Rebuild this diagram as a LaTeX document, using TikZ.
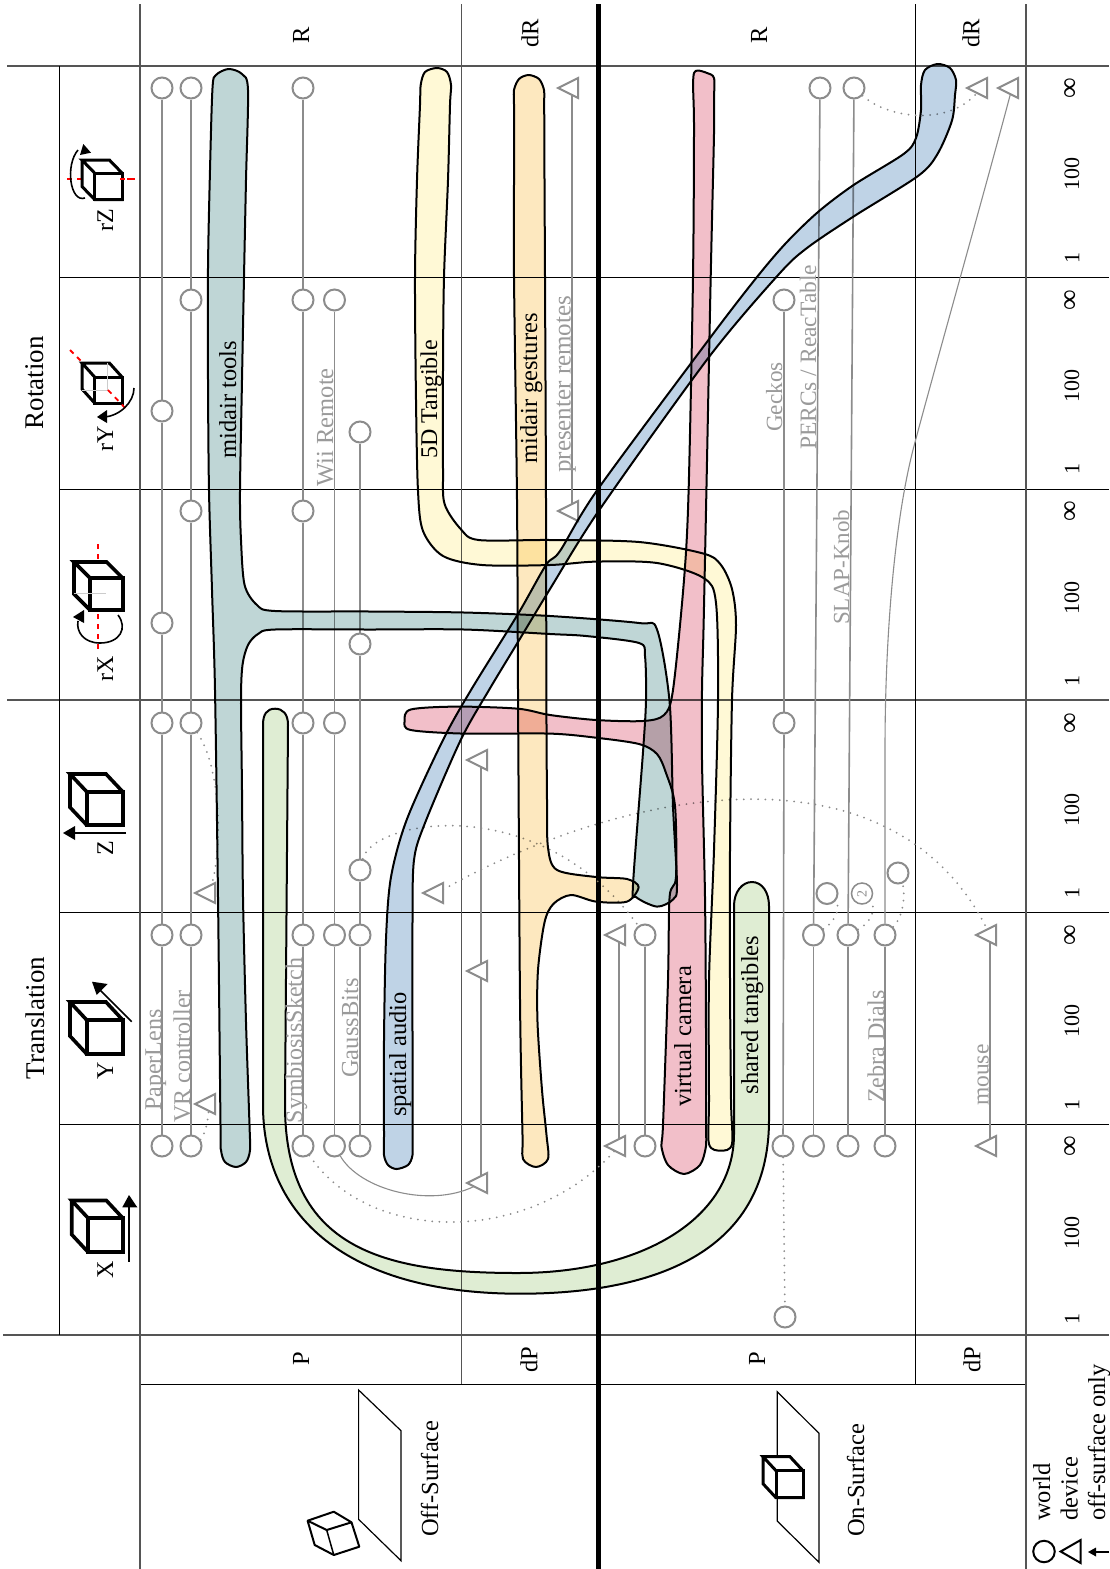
\documentclass[tikz,border=0pt]{standalone}
\usepackage{fontspec}
\setmainfont{Liberation Serif}
\usetikzlibrary{shapes.geometric}
\definecolor{devgray}{HTML}{8C8C8C}
\definecolor{txtgray}{HTML}{9A9A9A}
\definecolor{gridgray}{HTML}{555555}
\definecolor{cteal}{HTML}{BFD6D6}
\definecolor{cyel}{HTML}{FFF9D6}
\definecolor{corg}{HTML}{FDE8BF}
\definecolor{cblue}{HTML}{BFD3E6}
\definecolor{cpink}{HTML}{F2BFC9}
\definecolor{cgrn}{HTML}{DFEDD3}
\tikzset{
  wc/.style={circle,draw=devgray,line width=2pt,minimum size=21pt,inner sep=0pt},
  dt/.style={isosceles triangle,isosceles triangle stretches,shape border rotate=180,draw=devgray,line width=2pt,minimum height=20pt,minimum width=20pt,inner sep=0pt,outer sep=0pt},
  wire/.style={draw=devgray,line width=1.6pt},
  thinwire/.style={draw=devgray,line width=1.1pt},
  dots/.style={draw=devgray,line width=2pt,line cap=round,dash pattern=on 0pt off 7.2pt},
  gridd/.style={draw=gridgray,line width=1.1pt},
  gridk/.style={draw=black,line width=1pt},
  blob/.style={draw=black,line width=2pt,line join=round},
  glabel/.style={rotate=90,anchor=base west,inner sep=0pt,text=txtgray,font=\fontsize{24.5}{24.5}\selectfont},
  klabel/.style={rotate=90,anchor=base west,inner sep=0pt,text=black,font=\fontsize{24.5}{24.5}\selectfont},
  hlabel/.style={rotate=90,anchor=center,inner sep=0pt,text=black,font=\fontsize{24.5}{24.5}\selectfont},
  tick/.style={rotate=90,anchor=center,inner sep=0pt,text=black,font=\fontsize{22}{22}\selectfont},
  cubeline/.style={draw=black,line width=3pt,line join=miter,fill=white},
  reddash/.style={draw=red,line width=1.8pt,dash pattern=on 5pt off 5pt},
  arr/.style={draw=black,line width=1.6pt},
  head/.style={fill=black,draw=none},
  faint/.style={draw=black!20,line width=.6pt},
}
\newcommand{\mycube}[6]{%
  \draw[cubeline] (#1,#2) -- ({#1+#5},{#2+#6}) -- ({#3+#5},{#2+#6}) -- (#3,#2) -- (#3,#4) -- (#1,#4) -- ({#1+#5},{#4+#6}) -- ({#1+#5},{#2+#6});
  \draw[cubeline] (#1,#2) rectangle (#3,#4);
}
\begin{document}
\begin{tikzpicture}[x=1pt,y=-1pt]
\useasboundingbox (0,0) rectangle (1109,1569);
\fill[white] (0,0) rectangle (1109,1569);
% grid
\draw[gridd] (7,66) -- (1109,66);
\draw[gridd] (7,700) -- (1109,700);
\draw[gridd] (3,1335) -- (1109,1335);
\foreach \yy in {277,489,912,1124}{\draw[gridk] (59,\yy) -- (1109,\yy);}
\draw[gridk] (59,66) -- (59,1335);
\draw[gridk] (140,1384) -- (1025,1384);
\draw[gridd] (140,4) -- (140,1569);
\draw[gridd] (461.5,4) -- (461.5,1384);
\draw[gridk] (915.5,4) -- (915.5,1384);
\draw[gridd] (1026,4) -- (1026,1569);
\draw[draw=black,line width=4.5pt] (598.5,4) -- (598.5,1569);
% off-surface columns
\node[wc] (a1) at (162,88) {}; \node[wc] (a2) at (162,411) {}; \node[wc] (a3) at (162,623) {}; \node[wc] (a4) at (162,723) {}; \node[wc] (a5) at (162,935) {}; \node[wc] (a6) at (162,1146) {};
\draw[wire] (a1)--(a2); \draw[wire] (a2)--(a3); \draw[wire] (a3)--(a4); \draw[wire] (a4)--(a5); \draw[wire] (a5)--(a6);
\node[wc] (b1) at (191,88) {}; \node[wc] (b2) at (191,300) {}; \node[wc] (b3) at (191,511) {}; \node[wc] (b4) at (191,723) {}; \node[wc] (b5) at (191,935) {}; \node[wc] (b6) at (191,1146) {};
\draw[wire] (b1)--(b2); \draw[wire] (b2)--(b3); \draw[wire] (b3)--(b4); \draw[wire] (b4)--(b5); \draw[wire] (b5)--(b6);
\node[wc] (c1) at (303,88) {}; \node[wc] (c2) at (303,300) {}; \node[wc] (c3) at (303,511) {}; \node[wc] (c4) at (303,723) {}; \node[wc] (c5) at (303,935) {}; \node[wc] (c6) at (303,1146) {};
\draw[wire] (c1)--(c2); \draw[wire] (c2)--(c3); \draw[wire] (c3)--(c4); \draw[wire] (c4)--(c5); \draw[wire] (c5)--(c6);
\node[wc] (d1) at (334.5,300) {}; \node[wc] (d2) at (334.5,723) {}; \node[wc] (d3) at (334.5,935) {}; \node[wc] (d4) at (334.5,1146) {};
\draw[wire] (d1)--(d2); \draw[wire] (d2)--(d3); \draw[wire] (d3)--(d4);
\node[wc] (e1) at (360,432) {}; \node[wc] (e2) at (360,644) {}; \node[wc] (e3) at (360,870) {}; \node[wc] (e4) at (360,935) {}; \node[wc] (e5) at (360,1146) {};
\draw[wire] (e1)--(e2); \draw[wire] (e2)--(e3); \draw[wire] (e3)--(e4); \draw[wire] (e4)--(e5);
\node[dt] (f1) at (481,760) {}; \node[dt] (f2) at (481,971) {}; \node[dt] (f3) at (481,1183) {};
\draw[wire] (f1)--(f2); \draw[wire] (f2)--(f3);
\node[dt] (g1) at (572,88) {}; \node[dt] (g2) at (572,511) {};
\draw[wire] (g1)--(g2);
\node[dt] (h1) at (209,893) {}; \node[dt] (h2) at (209,1104) {};
\node[dt] (i1) at (437,893) {};
% on-surface columns
\node[dt] (j1) at (619,935) {}; \node[dt] (j2) at (619,1146) {};
\draw[wire] (j1)--(j2);
\node[wc] (k1) at (645,935) {}; \node[wc] (k2) at (645,1146) {};
\draw[wire] (k1)--(k2);
\node[wc] (l1) at (784,300) {}; \node[wc] (l2) at (784,723) {}; \node[wc] (l3) at (783,1146) {}; \node[wc] (l4) at (785,1317) {};
\draw[wire] (l1)--(l2); \draw[wire] (l2)--(l3);
\node[wc] (m1) at (820,88) {}; \node[wc] (m2) at (813.5,935) {}; \node[wc] (m3) at (813.5,1146) {};
\draw[wire] (m1)--(m2); \draw[wire] (m2)--(m3);
\node[wc] (n1) at (854,88) {}; \node[wc] (n2) at (848,935) {}; \node[wc] (n3) at (848,1146) {};
\draw[wire] (n1)--(n2); \draw[wire] (n2)--(n3);
\node[wc] (o2) at (885,935) {}; \node[wc] (o3) at (885,1146) {};
\draw[wire] (o2)--(o3);
\node[wc] (q1) at (827,893.5) {};
\node[wc,line width=1.5pt,font=\fontsize{14}{14}\selectfont,text=devgray,rotate=90] (q2) at (862,893.5) {2};
\node[wc] (q3) at (898,873) {};
\node[dt] (r1) at (981,88) {}; \node[dt] (r2) at (1012,88) {};
\node[dt] (s1) at (990,935) {}; \node[dt] (s2) at (990,1146) {};
\draw[wire] (s1)--(s2);
% curved connectors
\coordinate (v1) at (914,446); \coordinate (v2) at (885,750);
\draw[thinwire] (r2) .. controls (985,190) and (935,367) .. (v1) .. controls (894,522) and (885,640) .. (v2) -- (o2);
\draw[thinwire] (d4) .. controls (360,1190) and (430,1208) .. (f3);
\draw[dots] (l3) -- (l4);
\draw[dots] (b4) .. controls (222,770) and (222,850) .. (h1);
\draw[dots] (b6) .. controls (203,1138) and (208,1125) .. (h2);
\draw[dots] (i1) .. controls (620,790) and (890,735) .. (s1);
\draw[dots] (e3) .. controls (373,819) and (540,790) .. (k1);
\draw[dots] (c6) .. controls (370,1245) and (530,1245) .. (j2);
\draw[dots] (n1) .. controls (890,120) and (950,125) .. (r1);
\draw[dots] (m2) .. controls (838,920) and (840,905) .. (q1);
\draw[dots] (n2) .. controls (875,920) and (875,905) .. (q2);
\draw[dots] (o2) .. controls (905,915) and (905,890) .. (q3);
% blobs
\begin{scope}[blend mode=multiply]
\draw[blob,fill=cgrn] (263,725) .. controls (263,714) and (267,708.7) .. (275,708.7) .. controls (283,708.7) and (288,714) .. (288,725) -- (285,1105) .. controls (285,1250) and (385,1273) .. (518,1273) .. controls (640,1273) and (734,1220) .. (734,1134) -- (734,906) .. controls (734,892) and (742,882) .. (752,882) .. controls (762,882) and (769,892) .. (769,906) -- (769,1120) .. controls (769,1255) and (650,1294) .. (518,1293.7) .. controls (345,1293) and (263,1215) .. (263,1105) -- cycle;
\draw[blob,fill=cyel] plot[smooth cycle,tension=.5] coordinates {(420.7,85) (420,105) (417,180) (415,277) (416,400) (418,491) (423,531) (443,556) (482,565) (550,565) (596,561.6) (657,563) (703.6,578) (716,603) (718,700) (714,850) (709,980) (709,1100) (709,1144) (721,1150.6) (732,1144) (731,1100) (730,980) (730,850) (732,700) (736,625) (732,589) (721,565) (703.6,553.6) (639,542) (550,540) (478.6,540) (460.7,529) (444.6,504) (443,469) (443,370) (444,277) (448,180) (450,105) (451,85) (447,72) (437,68) (425,72)};
\draw[blob,fill=corg] plot[smooth cycle,tension=.5] coordinates {(514,90) (519,79) (528.6,75) (539,79) (544,90) (544.2,105) (544.5,180) (545,277) (546,500) (546.4,700) (547,800) (548,847.7) (557,870) (596,877) (627,879) (638.6,887) (627,901.6) (596,901.6) (571,895) (553.6,903.7) (544.6,922) (538,970) (537.5,1022) (542,1090) (546.5,1135) (548,1159) (536,1167) (523,1159) (522.5,1135) (520,1000) (518,690) (517,500) (514,277) (514,180) (514,105)};
\draw[blob,fill=cblue] plot[smooth cycle,tension=.5] coordinates {(921,85) (925,70) (937.5,64) (950,68) (956,80) (955,95) (952,120.5) (937.5,154) (918,176) (853.6,216.5) (807,248) (778.6,274.5) (709,357) (600,509) (550,589) (518,642) (489,690) (460.7,740) (425,823) (414,860) (412.5,922) (412.5,1040) (412.5,1135) (412.5,1155) (408,1165) (396.4,1169) (388,1165) (384,1155) (384,1135) (384,1040) (386,939) (391,877) (407,819) (443,740) (471,690) (518,614) (546,565) (560,551) (598,489) (710.7,337) (757,277) (786,243) (818,212) (853.6,185) (903.6,154) (916,138) (921,110)};
\draw[blob,fill=cpink] plot[smooth cycle,tension=.5] coordinates {(693,85) (694,73) (698,70.5) (707,73) (714,78) (714,100) (714,134) (710.7,277) (706.4,491) (703.6,625) (702,690) (702,760.5) (705,897) (706,1030) (706,1125) (706,1146) (700,1165) (684,1174) (668,1165) (661.4,1146) (663,1125) (668,980) (669.6,897) (676,877) (675,806) (666,773) (657,754) (639,744) (596,737.7) (550,733.6) (464,733.6) (410.7,730) (404.6,721) (410.7,709.5) (457,706.6) (518,708.7) (550,715) (596,720) (643,721) (664,715) (673,690) (684,580) (688.6,491) (693,277) (694,134) (693.5,100)};
\draw[blob,fill=cteal] plot[smooth cycle,tension=.5] coordinates {(212.5,88) (216,75) (228.6,69) (242,74) (248,90) (246,180) (244,277) (242,380) (240,491) (241,540) (244.6,585) (257,605) (275,611) (370,611.5) (464,612.5) (550,616) (639,623) (657,629.5) (669.6,702) (673,806) (677,885) (673,899.5) (657,906.6) (636,897) (633,885) (643,752) (646,700) (645,656) (639,643) (586,636) (550,634) (464,629.5) (370,629.5) (275,629.5) (258,634) (248,645) (242.5,665) (241,700) (242,790) (243,897) (246,1022) (249.5,1125) (250,1150) (246,1162) (236,1167) (225,1162) (221,1150) (220.5,1125) (218,897) (215,690) (212,590) (209,491) (208,380) (208,268) (210,170)};
\end{scope}
% gray labels
\node[glabel,font=\fontsize{24}{24}\selectfont] (tpaper) at (161,1111) {PaperLens};
\node[glabel,font=\fontsize{24}{24}\selectfont] (tvr) at (190,1123) {VR controller};
\node[glabel,font=\fontsize{24}{24}\selectfont] (tsym) at (302,1123.5) {SymbiosisSketch};
\node[glabel] (tgauss) at (358,1078) {GaussBits};
\node[glabel] (twii) at (333,486.5) {Wii Remote};
\node[glabel,font=\fontsize{25}{25}\selectfont] (tpres) at (570.5,473) {presenter remotes};
\node[glabel,font=\fontsize{23.2}{23.2}\selectfont] (tgeck) at (782,432) {Geckos};
\node[glabel,font=\fontsize{23.5}{23.5}\selectfont] (tperc) at (816,450) {PERCs / ReacTable};
\node[glabel,font=\fontsize{23}{23}\selectfont] (tslap) at (849,625) {SLAP-Knob};
\node[glabel,font=\fontsize{24}{24}\selectfont] (tzeb) at (884,1103) {Zebra Dials};
\node[glabel,font=\fontsize{23.5}{23.5}\selectfont] (tmouse) at (988.5,1106) {mouse};
% black labels
\node[klabel] (tmid) at (236,459) {midair tools};
\node[klabel,font=\fontsize{24}{24}\selectfont] (t5d) at (437,459) {5D Tangible};
\node[klabel] (tges) at (537,464) {midair gestures};
\node[klabel] (tspa) at (406,1117) {spatial audio};
\node[klabel] (tvirt) at (691,1107) {virtual camera};
\node[klabel] (tshar) at (758,1094.5) {shared tangibles};
% headers
\node[hlabel] (hr1) at (301,35) {R};
\node[hlabel] (hd1) at (530,33.5) {dR};
\node[hlabel] (hr2) at (759,35) {R};
\node[hlabel] (hd2) at (971,33.5) {dR};
\node[hlabel] (hp1) at (301,1359) {P};
\node[hlabel] (hq1) at (529,1360) {dP};
\node[hlabel] (hp2) at (757,1359) {P};
\node[hlabel] (hq2) at (972,1360) {dP};
\node[rotate=90,anchor=center,inner sep=0pt,font=\fontsize{27}{27}\selectfont] (trot) at (35,383) {Rotation};
\node[rotate=90,anchor=center,inner sep=0pt,font=\fontsize{27}{27}\selectfont] (ttra) at (35,1018) {Translation};
% ticks
\foreach \nm/\yi/\yc/\yo in {a/88/174/258,b/300/386/469,c/511/598/681,d/723/810/893,e/935/1021/1105,f/1146/1233/1319}{
  \node[tick,font=\fontsize{29}{29}\selectfont] (ti\nm) at (1072,\yi) {∞};
  \node[tick] (tc\nm) at (1072,\yc) {100};
  \node[tick] (to\nm) at (1072,\yo) {1};
}
% cube icons
\draw[reddash] (67,178.7) -- (135,178.7);
\draw[arr] (85,198) .. controls (70,203) and (65,165) .. (78,150);
\fill[head] (83.3,144) -- (80,155) -- (91,152.7) -- cycle;
\mycube{94.6}{173}{122}{199.5}{-12.6}{-13}
\draw[reddash] (120,178.7) -- (135,178.7);
\node[klabel,font=\fontsize{24}{24}\selectfont] (lrz) at (113,232) {rZ};
\mycube{94.6}{377}{122}{403}{-12.6}{-14}
\draw[faint] (82,390) -- (107,390) -- (107,363);
\draw[reddash] (70,350) -- (82,362);
\draw[reddash] (108,390) -- (128,411);
\draw[arr] (134,388) .. controls (134,402) and (120,416) .. (104,417);
\fill[head] (97,417) -- (107,410) -- (107,423) -- cycle;
\node[klabel,font=\fontsize{24}{24}\selectfont] (lry) at (113,452) {rY};
\draw[reddash] (98,544) -- (98,649);
\tikzset{cubeline/.append style={line width=3.6pt}}
\mycube{90}{578}{122.7}{610}{-16}{-16}
\draw[faint] (74,593) -- (106,593);
\draw[arr] (118,615) .. controls (128,628) and (120,643) .. (100,643) .. controls (84,643) and (76,632) .. (78,621);
\fill[head] (73,617) -- (84,610) -- (84,623) -- cycle;
\node[klabel,font=\fontsize{24}{24}\selectfont] (lrx) at (113,682) {rX};
\mycube{86.7}{791.7}{122.7}{825}{-16.7}{-17.7}
\draw[arr] (126,833) -- (74,833);
\fill[head] (63,833) -- (75,826) -- (75,840) -- cycle;
\node[klabel,font=\fontsize{24}{24}\selectfont] (lz) at (113,856) {Z};
\mycube{86.7}{1020}{122.7}{1054}{-16.7}{-18}
\draw[arr] (131.7,1021.7) -- (99,989);
\fill[head] (92,981.7) -- (107.7,984) -- (96.7,995) -- cycle;
\node[klabel,font=\fontsize{24}{24}\selectfont] (ly) at (113,1080) {Y};
\mycube{88}{1218}{122.7}{1252}{-16.3}{-17.5}
\draw[arr] (129,1261.7) -- (129,1205);
\fill[head] (129,1195) -- (122.3,1207.3) -- (137.3,1207.3) -- cycle;
\node[klabel,font=\fontsize{24}{24}\selectfont] (lx) at (113,1279) {X};
% surfaces
\tikzset{cubeline/.append style={line width=3pt}}
\draw[black,line width=1.2pt] (358.6,1390) -- (401,1430.7) -- (401,1560.7) -- (358.6,1519.3) -- cycle;
\draw[black,line width=2pt,line join=round,fill=white] (307.6,1520.7) -- (333.8,1511.7) -- (351.5,1522.3) -- (359.3,1546.7) -- (333.8,1555) -- (314.7,1545) -- cycle;
\draw[black,line width=2pt] (307.6,1520.7) -- (326.7,1530) -- (351.5,1522.3);
\draw[black,line width=1.5pt] (326.7,1530) -- (333.8,1555);
\draw[black,line width=1.2pt] (777.2,1391.7) -- (819,1433.3) -- (819,1562.3) -- (777.2,1521) -- cycle;
\mycube{776}{1470.7}{803}{1497.7}{-13}{-14}
\node[klabel] (toff) at (438,1537) {Off-Surface};
\node[klabel] (ton) at (864,1537) {On-Surface};
% legend
\node[wc,draw=black,minimum size=21.5pt] (lgw) at (1044,1551.5) {};
\node[dt,draw=black,minimum width=23pt] (lgd) at (1074,1551.5) {};
\node[klabel] (tworld) at (1050,1521) {world};
\node[klabel] (tdevice) at (1077.5,1521) {device};
\node[klabel] (tonly) at (1105,1521) {off-surface only};
\coordinate (lga) at (1109,1552);
\coordinate (lgb) at (1094,1552);
\draw[arr,line width=2pt] (lga) -- (lgb);
\fill[head] (1088,1552) -- (1096,1547.5) -- (1096,1556.5) -- cycle;
\end{tikzpicture}
\end{document}
